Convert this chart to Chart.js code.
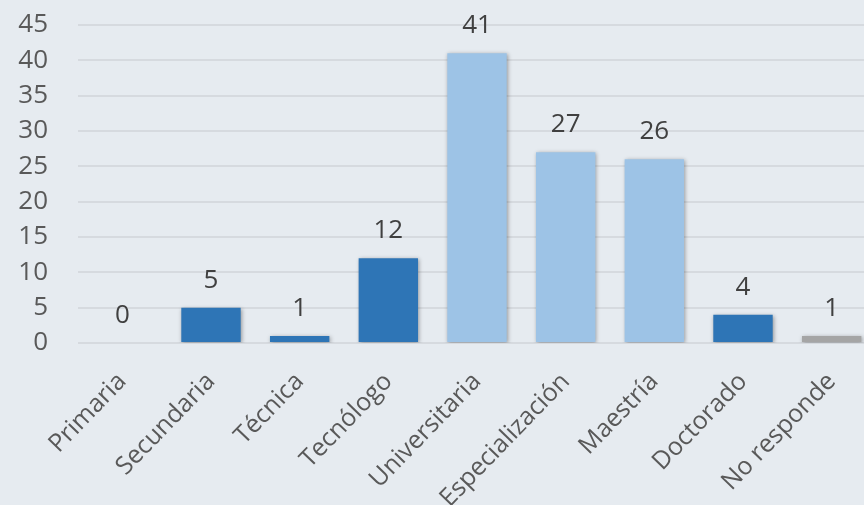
<!DOCTYPE html>
<html>
<head>
<meta charset="utf-8">
<script src="https://cdn.jsdelivr.net/npm/chart.js@4.4.0/dist/chart.umd.min.js"></script>
<style>
  html, body { margin: 0; padding: 0; background: #E6EBF0; overflow: hidden; }
  #wrap { width: 880px; height: 505px; }
</style>
</head>
<body>
<div id="wrap"><canvas id="myChart" width="880" height="505"></canvas></div>
<script>
const categories = ["Primaria", "Secundaria", "Técnica", "Tecnólogo", "Universitaria", "Especialización", "Maestría", "Doctorado", "No responde"];
const counts = [0, 5, 1, 12, 41, 27, 26, 4, 1];
const yTicks = [0, 5, 10, 15, 20, 25, 30, 35, 40, 45];

// colores por barra
const darkBlue = "#2E75B6";
const lightBlue = "#9DC3E6";
const grey = "#A5A5A5";
const barColors = [darkBlue, darkBlue, darkBlue, darkBlue, lightBlue, lightBlue, lightBlue, darkBlue, grey];

const FONT = "'Open Sans', 'Noto Sans', sans-serif";

const barShadow = {
  id: "barShadow",
  beforeDatasetDraw(chart){
    const c = chart.ctx;
    c.save();
    c.shadowColor = "rgba(0,0,0,0.35)";
    c.shadowBlur = 4;
    c.shadowOffsetX = 1;
    c.shadowOffsetY = 1;
  },
  afterDatasetDraw(chart){
    chart.ctx.restore();
  }
};

const valueLabels = {
  id: "valueLabels",
  afterDatasetsDraw(chart){
    const c = chart.ctx;
    const meta = chart.getDatasetMeta(0);
    c.save();
    c.font = "26px " + FONT;
    c.fillStyle = "#404040";
    c.textAlign = "center";
    c.textBaseline = "alphabetic";
    meta.data.forEach((bar, i) => {
      c.fillText(String(counts[i]), bar.x, bar.y - 20);
    });
    c.restore();
  }
};

const ctx = document.getElementById("myChart").getContext("2d");
const myChart = new Chart(ctx, {
  type: "bar",
  data: {
    labels: categories,
    datasets: [{
      data: counts,
      backgroundColor: barColors,
      borderWidth: 0,
      barPercentage: 0.67,
      categoryPercentage: 1
    }]
  },
  options: {
    responsive: false,
    animation: false,
    layout: { padding: { top: 25, left: 0, right: 4, bottom: 0 } },
    plugins: {
      legend: { display: false },
      tooltip: { enabled: false }
    },
    scales: {
      x: {
        grid: { display: false, drawTicks: false },
        border: { display: false },
        ticks: {
          color: "#595959",
          font: { family: FONT, size: 25 },
          maxRotation: 46,
          minRotation: 46,
          padding: 24,
          autoSkip: false
        },
        afterFit(scale){
          scale.height = 162;
          scale.paddingTop = 0;
          scale.paddingBottom = 0;
        }
      },
      y: {
        min: 0,
        max: 45,
        afterBuildTicks(scale){ scale.ticks = yTicks.map(v => ({ value: v })); },
        grid: { color: "#D6DADF", lineWidth: 2, drawTicks: false },
        border: { display: false },
        ticks: {
          color: "#595959",
          font: { family: FONT, size: 26 },
          padding: 30,
          autoSkip: false
        },
        afterFit(scale){
          scale.width = 78;
          scale.paddingTop = 0;
          scale.paddingBottom = 0;
        }
      }
    }
  },
  plugins: [barShadow, valueLabels]
});
</script>
</body>
</html>
